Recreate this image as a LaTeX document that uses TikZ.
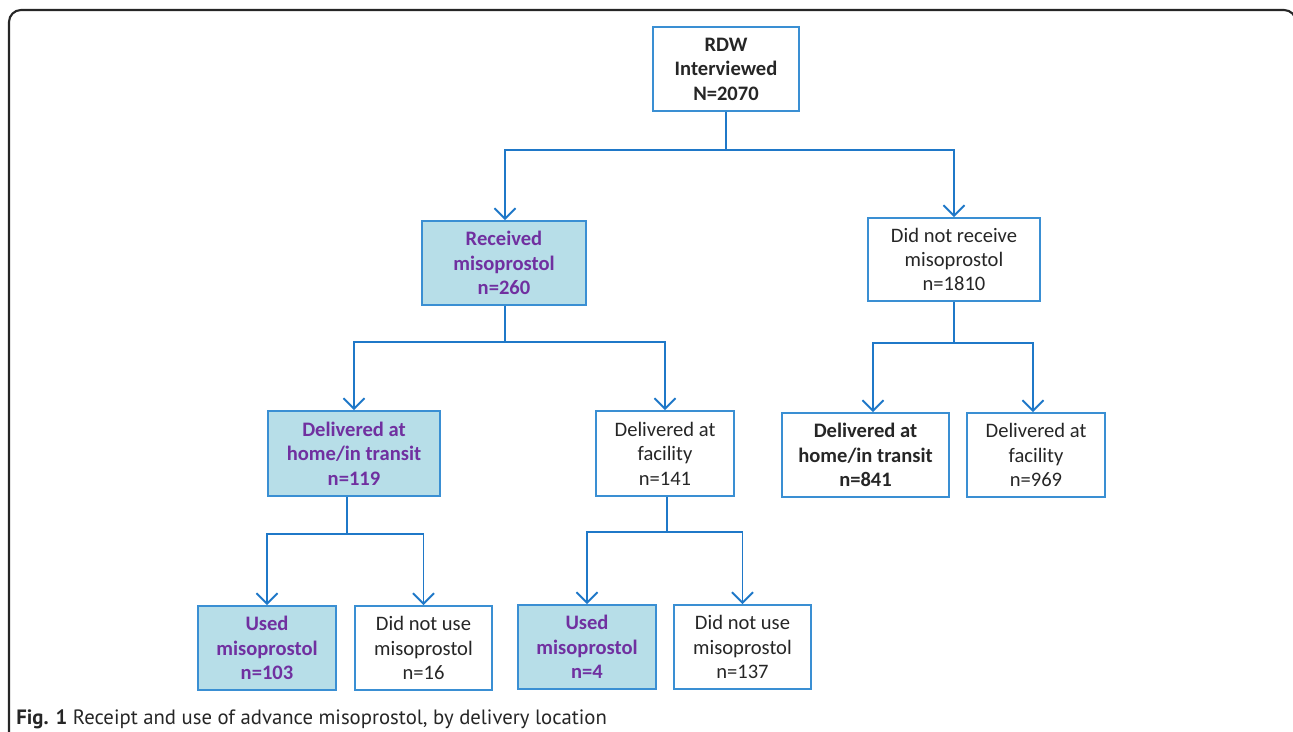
\documentclass[tikz,border=0pt]{standalone}
\usepackage{fontspec}
\setmainfont{Carlito}
\newfontfamily\capfont{PT Sans}
\usetikzlibrary{arrows.meta,positioning}
\definecolor{linkblue}{HTML}{1F78C8}
\definecolor{boxblue}{HTML}{3A8FD3}
\definecolor{usedfill}{HTML}{B7DEE8}
\definecolor{usedtext}{HTML}{7030A0}
\definecolor{plaintext}{HTML}{262626}

\begin{document}
\begin{tikzpicture}[x=0.02cm,y=-0.02cm,>={Straight Barb[length=6pt,width=12pt,line width=1.1pt]},
    main node/.style={draw=boxblue,line width=1pt,align=center,inner sep=0pt,minimum height=1.68cm,
      text=plaintext,font=\fontsize{11.7}{13.9}\selectfont,execute at begin node=\rule{0pt}{11.3pt}},
    used node/.style={main node,fill=usedfill,text=usedtext,font=\fontsize{11.7}{13.9}\selectfont\bfseries},
    link/.style={draw=linkblue,line width=1.1pt}]
  \useasboundingbox (0,0) rectangle (1293,731);
  \clip (0,0) rectangle (1293,731);

  % Frame
  \draw[line width=1.2pt,black!85,rounded corners=0.24cm] (9,760) -- (9,10) -- (1296,10) -- (1296,760);

  % Nodes
  \node[main node,minimum width=2.92cm,font=\fontsize{11.7}{13.9}\selectfont\bfseries] (rdw) at (726,69) {RDW\\Interviewed\\N=2070};
  \node[used node,minimum width=3.28cm] (recv) at (504,263) {Received\\misoprostol\\n=260};
  \node[main node,minimum width=3.44cm,minimum height=1.66cm] (norecv) at (954,259.5) {Did not receive\\misoprostol\\n=1810};

  \node[used node,minimum width=3.44cm,minimum height=1.70cm] (homeA) at (354,453.5) {Delivered at\\home/in transit\\n=119};
  \node[main node,minimum width=2.76cm,minimum height=1.70cm] (facA) at (665,453.5) {Delivered at\\facility\\n=141};
  \node[main node,minimum width=3.34cm,font=\fontsize{11.7}{13.9}\selectfont\bfseries] (homeB) at (865.5,455) {Delivered at\\home/in transit\\n=841};
  \node[main node,minimum width=2.76cm] (facB) at (1036,455) {Delivered at\\facility\\n=969};

  \node[used node,minimum width=2.76cm] (usedA) at (267,648) {Used\\misoprostol\\n=103};
  \node[main node,minimum width=2.74cm] (notusedA) at (423.5,648) {Did not use\\misoprostol\\n=16};
  \node[used node,minimum width=2.76cm] (usedB) at (587,647) {Used\\misoprostol\\n=4};
  \node[main node,minimum width=2.74cm] (notusedB) at (742.5,647) {Did not use\\misoprostol\\n=137};

  \node[anchor=base west,inner sep=0pt,text=plaintext,font=\capfont\fontsize{11.8}{14}\selectfont] (caption) at (16,724)
    {\textbf{Fig. 1} Receipt and use of advance misoprostol, by delivery location};

  % Edges
  \coordinate (splitTop) at (726,150);
  \draw[link] (rdw.south) -- (splitTop);
  \draw[link,->] (splitTop) -| ([xshift=0.02cm]recv.north);
  \draw[link,->] (splitTop) -| (norecv.north);

  \coordinate (splitRecv) at (505,342);
  \draw[link] (recv.south -| splitRecv) -- (splitRecv);
  \draw[link,->] (splitRecv) -| (homeA.north);
  \draw[link,->] (splitRecv) -| (facA.north);

  \coordinate (splitNoRecv) at (954,343);
  \draw[link] (norecv.south) -- (splitNoRecv);
  \draw[link,->] (splitNoRecv) -| ([xshift=0.15cm]homeB.north);
  \draw[link,->] (splitNoRecv) -| ([xshift=-0.06cm]facB.north);

  \coordinate (splitHome) at (347,534);
  \draw[link] (homeA.south -| splitHome) -- (splitHome);
  \draw[link,->] (splitHome) -| (usedA.north);
  \draw[link,->] (splitHome) -| (notusedA.north);

  \coordinate (splitFac) at (667,532);
  \draw[link] (facA.south -| splitFac) -- (splitFac);
  \draw[link,->] (splitFac) -| (usedB.north);
  \draw[link,->] (splitFac) -| (notusedB.north);
\end{tikzpicture}
\end{document}
